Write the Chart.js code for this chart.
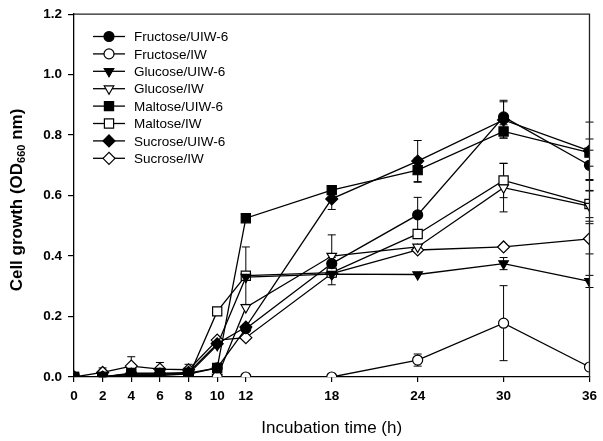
<!DOCTYPE html>
<html>
<head>
<meta charset="utf-8">
<script src="https://cdn.jsdelivr.net/npm/chart.js@4.4.1/dist/chart.umd.min.js"></script>
<style>
  body { margin: 0; background: #fff; }
  #wrap { width: 603px; height: 441px; }
</style>
</head>
<body>
<div id="wrap"><canvas id="growth" width="603" height="441"></canvas></div>
<script>
const hours = [0, 2, 4, 6, 8, 10, 12, 18, 24, 30, 36];
const xTicks = [0, 2, 4, 6, 8, 10, 12, 18, 24, 30, 36];

const fructoseUIW = [0, 0, 0.01, 0.01, 0.01, 0.03, 0.16, 0.375, 0.536, 0.86, 0.70];
const fructoseIW = [0, 0, 0, 0, 0, 0, 0, 0, 0.056, 0.178, 0.033];
const glucoseUIW = [0, 0, 0.005, 0.005, 0.01, 0.105, 0.33, 0.34, 0.339, 0.375, 0.316];
const glucoseIW = [0, 0, 0, 0, 0, 0, 0.23, 0.40, 0.43, 0.626, 0.565];
const maltoseUIW = [0, 0, 0.013, 0.013, 0.013, 0.03, 0.525, 0.618, 0.684, 0.812, 0.742];
const maltoseIW = [0, 0, 0, 0, 0, 0.217, 0.335, 0.345, 0.473, 0.65, 0.572];
const sucroseUIW = [0, 0, 0.01, 0.01, 0.015, 0.11, 0.165, 0.589, 0.714, 0.85, 0.748];
const sucroseIW = [0, 0.015, 0.036, 0.026, 0.024, 0.122, 0.13, 0.342, 0.42, 0.43, 0.457];

// standard deviations (0 = no bar visible)
const fructoseUIWErr = [0, 0, 0, 0, 0, 0, 0, 0.02, 0.058, 0.055, 0.05];
const fructoseIWErr = [0, 0, 0, 0, 0, 0, 0, 0, 0.02, 0.124, 0];
const glucoseUIWErr = [0, 0, 0, 0, 0, 0, 0, 0, 0, 0.02, 0.02];
const glucoseIWErr = [0, 0, 0, 0, 0, 0, 0, 0.07, 0, 0.08, 0.05];
const maltoseUIWErr = [0, 0, 0, 0, 0, 0, 0, 0, 0.04, 0.022, 0.045];
const maltoseIWErr = [0, 0, 0, 0, 0, 0, 0.095, 0, 0, 0.057, 0.045];
const sucroseUIWErr = [0, 0, 0, 0, 0, 0, 0, 0.035, 0.068, 0.06, 0.095];
const sucroseIWErr = [0, 0.015, 0.031, 0.022, 0.018, 0, 0, 0.037, 0, 0, 0.05];

const FONT = "'Liberation Sans', Arial, sans-serif";

function makeSet(label, values, errs, style, filled, radius, rotation) {
  return {
    label: label,
    data: hours.map((h, i) => ({ x: h, y: values[i] })),
    errors: errs,
    borderColor: '#000',
    borderWidth: 1.3,
    tension: 0,
    pointStyle: style,
    pointRotation: rotation || 0,
    pointRadius: radius,
    pointBorderWidth: 1.2,
    pointBorderColor: '#000',
    pointBackgroundColor: filled ? '#000' : '#fff',
    fill: false
  };
}

const datasets = [
  makeSet('Fructose/UIW-6', fructoseUIW, fructoseUIWErr, 'circle', true, 5),
  makeSet('Fructose/IW', fructoseIW, fructoseIWErr, 'circle', false, 5),
  makeSet('Glucose/UIW-6', glucoseUIW, glucoseUIWErr, 'triangle', true, 5.5, 180),
  makeSet('Glucose/IW', glucoseIW, glucoseIWErr, 'triangle', false, 5.5, 180),
  makeSet('Maltose/UIW-6', maltoseUIW, maltoseUIWErr, 'rect', true, 6.5),
  makeSet('Maltose/IW', maltoseIW, maltoseIWErr, 'rect', false, 6.5),
  makeSet('Sucrose/UIW-6', sucroseUIW, sucroseUIWErr, 'rectRot', true, 6),
  makeSet('Sucrose/IW', sucroseIW, sucroseIWErr, 'rectRot', false, 6)
];

const errorBars = {
  id: 'errorBars',
  beforeDatasetsDraw(chart) {
    const ctx = chart.ctx;
    const xs = chart.scales.x, ys = chart.scales.y;
    ctx.save();
    ctx.strokeStyle = '#000';
    ctx.lineWidth = 1;
    chart.data.datasets.forEach(ds => {
      ds.data.forEach((p, i) => {
        const e = ds.errors[i];
        if (!e) return;
        const px = xs.getPixelForValue(p.x);
        const top = ys.getPixelForValue(p.y + e);
        const bot = ys.getPixelForValue(Math.max(0, p.y - e));
        ctx.beginPath();
        ctx.moveTo(px, top); ctx.lineTo(px, bot);
        ctx.moveTo(px - 4, top); ctx.lineTo(px + 4, top);
        ctx.moveTo(px - 4, bot); ctx.lineTo(px + 4, bot);
        ctx.stroke();
      });
    });
    ctx.restore();
  }
};

const frameAndLegend = {
  id: 'frameAndLegend',
  afterDraw(chart) {
    const ctx = chart.ctx;
    const a = chart.chartArea;
    ctx.save();
    // top and right frame
    ctx.strokeStyle = '#222';
    ctx.lineWidth = 1.3;
    ctx.beginPath();
    ctx.moveTo(a.left, a.top);
    ctx.lineTo(a.right, a.top);
    ctx.lineTo(a.right, a.bottom);
    ctx.stroke();

    // legend inside plot
    ctx.font = '13.5px ' + FONT;
    ctx.textBaseline = 'middle';
    ctx.textAlign = 'left';
    chart.data.datasets.forEach((ds, i) => {
      const y = 36.5 + i * 17.4;
      ctx.strokeStyle = '#000';
      ctx.lineWidth = 1.3;
      ctx.beginPath();
      ctx.moveTo(93, y); ctx.lineTo(125, y);
      ctx.stroke();
      ctx.fillStyle = ds.pointBackgroundColor;
      ctx.lineWidth = 1.2;
      Chart.helpers.drawPoint(ctx, {
        pointStyle: ds.pointStyle,
        rotation: ds.pointRotation,
        radius: ds.pointRadius,
        borderWidth: 1.2
      }, 109, y);
      ctx.fillStyle = '#000';
      ctx.fillText(ds.label, 134, y + 1);
    });

    // y title with subscript
    ctx.translate(17, 200);
    ctx.rotate(-Math.PI / 2);
    const main = 'bold 17px ' + FONT, sub = 'bold 11px ' + FONT;
    const p1 = 'Cell growth (OD', p2 = '660', p3 = ' nm)';
    ctx.font = main; const w1 = ctx.measureText(p1).width, w3 = ctx.measureText(p3).width;
    ctx.font = sub; const w2 = ctx.measureText(p2).width;
    let x = -(w1 + w2 + w3) / 2;
    ctx.fillStyle = '#000';
    ctx.textBaseline = 'middle';
    ctx.font = main; ctx.fillText(p1, x, 0); x += w1;
    ctx.font = sub; ctx.fillText(p2, x, 5); x += w2;
    ctx.font = main; ctx.fillText(p3, x, 0);
    ctx.restore();
  }
};

new Chart(document.getElementById('growth'), {
  type: 'line',
  data: { datasets: datasets },
  options: {
    responsive: false,
    animation: false,
    layout: { padding: { top: 12, right: 11, left: 0, bottom: 0 } },
    plugins: { legend: { display: false }, tooltip: { enabled: false } },
    scales: {
      x: {
        type: 'linear',
        min: 0,
        max: 36,
        afterBuildTicks: axis => { axis.ticks = xTicks.map(v => ({ value: v })); },
        afterFit: axis => { axis.height = 64; },
        grid: { drawOnChartArea: false, drawTicks: true, tickLength: 5, color: '#000', lineWidth: 1.2 },
        border: { display: true, color: '#000', width: 1.3 },
        ticks: { color: '#000', padding: 6, maxRotation: 0, autoSkip: false, font: { family: FONT, size: 13.5, weight: 'bold' } },
        title: { display: true, text: 'Incubation time (h)', color: '#000', padding: { top: 0, bottom: 2 }, font: { family: FONT, size: 17 } }
      },
      y: {
        min: 0,
        max: 1.2,
        afterFit: axis => { axis.width = 74; },
        grid: { drawOnChartArea: false, drawTicks: true, tickLength: 6, color: '#000', lineWidth: 1.2 },
        border: { display: true, color: '#000', width: 1.3 },
        ticks: { stepSize: 0.2, color: '#000', padding: 6, callback: v => v.toFixed(1), font: { family: FONT, size: 13.5, weight: 'bold' } }
      }
    }
  },
  plugins: [errorBars, frameAndLegend]
});
</script>
</body>
</html>
